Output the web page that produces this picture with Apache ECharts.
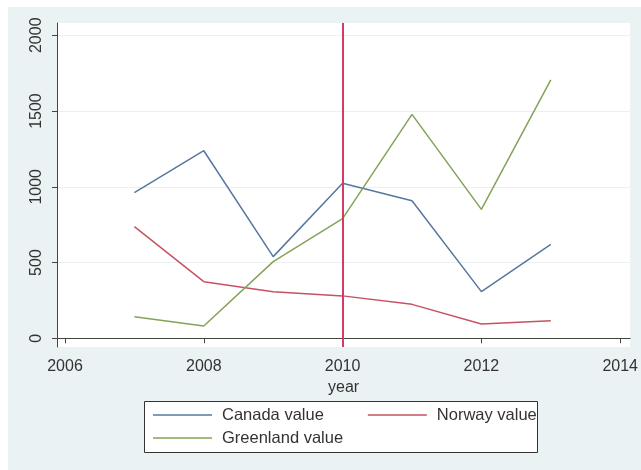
<!DOCTYPE html>
<html>
<head>
<meta charset="utf-8">
<script src="https://cdn.jsdelivr.net/npm/echarts@6/dist/echarts.min.js"></script>
<style>
  html, body { margin: 0; padding: 0; background: #ffffff; }
  #bg { position: absolute; left: 8px; top: 7px; width: 633px; height: 463px; background: #eaf2f3; }
  #chart { position: absolute; left: 0; top: 0; width: 641px; height: 470px; }
</style>
</head>
<body>
<div id="bg"></div>
<div id="chart"></div>
<script>
const years = [2007, 2008, 2009, 2010, 2011, 2012, 2013];
const canadaValues = [961, 1238, 539, 1023, 908, 308, 620];
const norwayValues = [737, 374, 308, 280, 224, 94, 116];
const greenlandValues = [143, 81, 506, 790, 1478, 851, 1705];
const xTickLabels = [2006, 2008, 2010, 2012, 2014];
const yTickLabels = [0, 500, 1000, 1500, 2000];
const markerYear = 2010;

const seriesNames = ['Canada value', 'Norway value', 'Greenland value'];
const seriesColors = ['#56789f', '#c65262', '#84a25a'];

function pairs(vals) { return years.map((y, i) => [y, vals[i]]); }

const chart = echarts.init(document.getElementById('chart'), null, { renderer: 'canvas' });
const font = '"Liberation Sans", Arial, sans-serif';
const plain = v => String(v);

const legendText = { color: '#333', fontSize: 16.5, fontFamily: font, padding: [0, 0, 0, 5], lineHeight: 18 };

const option = {
  animation: false,
  backgroundColor: 'transparent',
  grid: {
    left: 57, right: 8, top: 23, bottom: 123,
    show: true, backgroundColor: '#ffffff', borderWidth: 0
  },
  xAxis: {
    type: 'value',
    min: 2005.885, max: 2014.143,
    name: 'year', nameLocation: 'middle', nameGap: 23,
    nameTextStyle: { color: '#333', fontSize: 16, fontFamily: font },
    axisLine: { show: true, lineStyle: { color: '#444', width: 1 } },
    axisTick: { show: true, length: 5, customValues: xTickLabels, lineStyle: { color: '#444' } },
    axisLabel: { customValues: xTickLabels, formatter: plain, color: '#333', fontSize: 16, fontFamily: font, margin: 12 },
    splitLine: { show: false }
  },
  yAxis: {
    type: 'value',
    min: -57.4, max: 2081,
    axisLine: { show: true, lineStyle: { color: '#444', width: 1 } },
    axisTick: { show: true, length: 5, customValues: yTickLabels, lineStyle: { color: '#444' } },
    axisLabel: { customValues: yTickLabels, formatter: plain, rotate: 90, color: '#333', fontSize: 16, fontFamily: font, margin: 12 },
    splitLine: { show: true, lineStyle: { color: '#e8f0f2', width: 1 } }
  },
  legend: [
    {
      data: seriesNames.slice(0, 2).map((n, i) => ({ name: n, icon: 'rect', itemStyle: { color: seriesColors[i] } })),
      left: 153, top: 406, padding: 0,
      itemWidth: 59, itemHeight: 1.5, itemGap: 44,
      textStyle: legendText,
      selectedMode: false
    },
    {
      data: [{ name: seriesNames[2], icon: 'rect', itemStyle: { color: seriesColors[2] } }],
      left: 153, top: 429, padding: 0,
      itemWidth: 59, itemHeight: 1.5,
      textStyle: legendText,
      selectedMode: false
    }
  ],
  graphic: [
    {
      type: 'rect', z: 0, silent: true,
      shape: { x: 144.5, y: 401.5, width: 393, height: 51 },
      style: { fill: '#ffffff', stroke: '#333333', lineWidth: 1 }
    }
  ],
  series: [
    {
      name: seriesNames[0], type: 'line', data: pairs(canadaValues),
      symbol: 'none', color: seriesColors[0],
      lineStyle: { color: seriesColors[0], width: 1.5 },
      emphasis: { disabled: true },
      markLine: {
        silent: true, symbol: ['none', 'none'],
        label: { show: false },
        lineStyle: { color: '#d63a64', width: 2, type: 'solid' },
        data: [{ xAxis: markerYear }]
      }
    },
    {
      name: seriesNames[1], type: 'line', data: pairs(norwayValues),
      symbol: 'none', color: seriesColors[1],
      lineStyle: { color: seriesColors[1], width: 1.5 },
      emphasis: { disabled: true }
    },
    {
      name: seriesNames[2], type: 'line', data: pairs(greenlandValues),
      symbol: 'none', color: seriesColors[2],
      lineStyle: { color: seriesColors[2], width: 1.5 },
      emphasis: { disabled: true }
    }
  ]
};
chart.setOption(option);
</script>
</body>
</html>
